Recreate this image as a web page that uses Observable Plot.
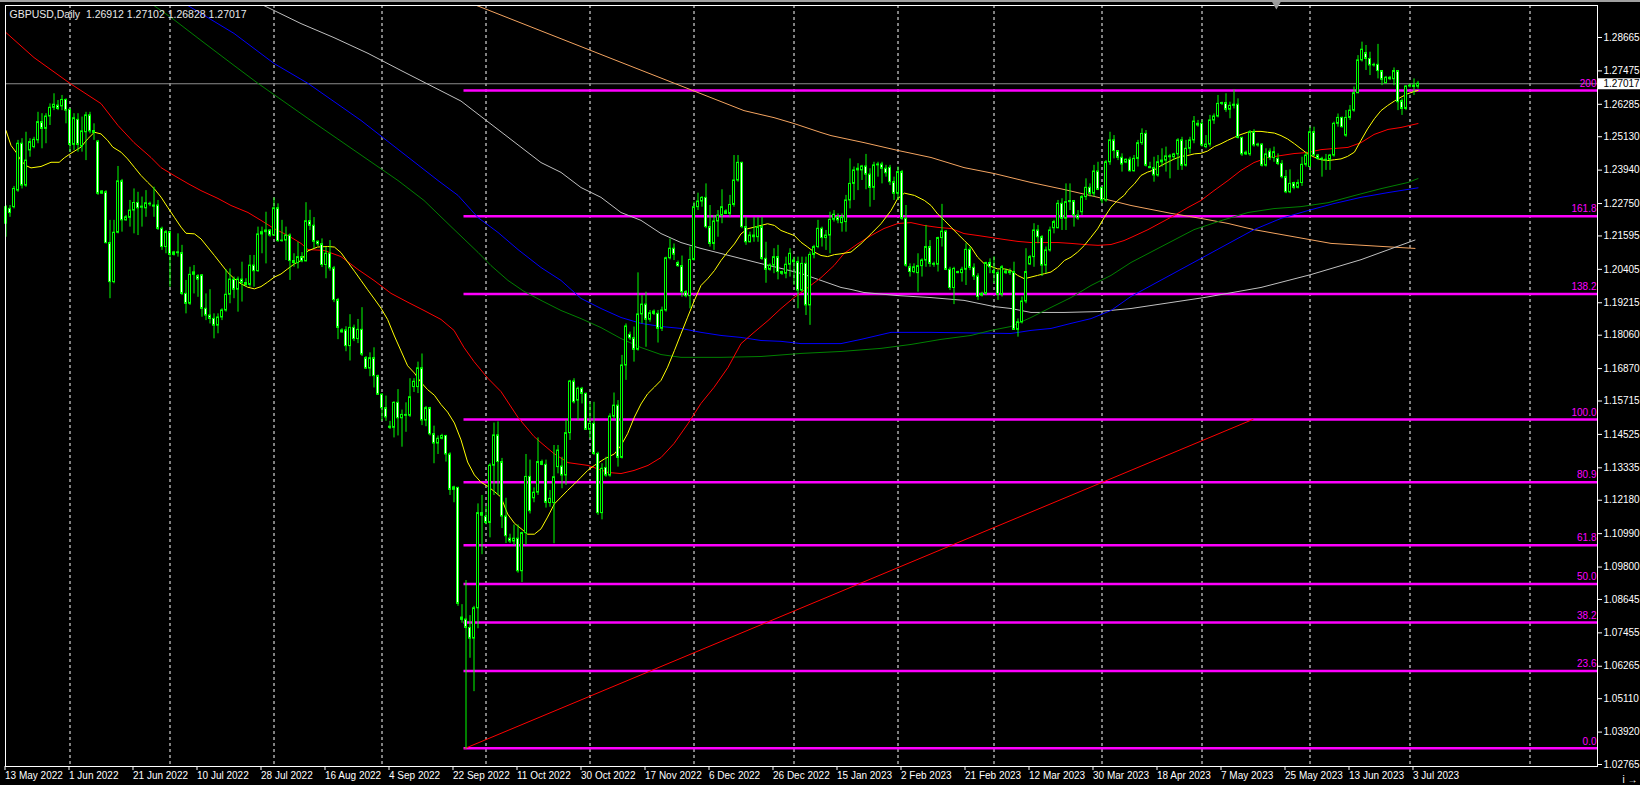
<!DOCTYPE html>
<html><head><meta charset="utf-8">
<script src="https://cdn.jsdelivr.net/npm/d3@7"></script>
<script src="https://cdn.jsdelivr.net/npm/@observablehq/plot@0.6"></script>
<style>
html,body{margin:0;padding:0;background:#000;}
#chart{position:relative;width:1640px;height:785px;overflow:hidden;background:#000;}
#chart svg{display:block;}
#topline{position:absolute;left:0;top:0;width:1640px;height:2px;background:#a0a0a0;}
</style></head><body><div id="chart"><div id="topline"></div></div>
<script>
const title = "GBPUSD,Daily  1.26912 1.27102 1.26828 1.27017";
const bid = 1.27017;

const opens = [
1.2203,1.2256,1.2262,1.2321,1.2488,1.2339,1.2464,1.2476,1.2500,1.2565,
1.2541,1.2585,1.2616,1.2624,1.2621,1.2644,1.2609,1.2484,1.2573,1.2478,
1.2529,1.2589,1.2533,1.2496,1.2310,1.2315,1.2134,1.1995,1.2171,1.2354,
1.2215,1.2224,1.2250,1.2277,1.2260,1.2258,1.2274,1.2268,1.2268,1.2185,
1.2120,1.2173,1.2092,1.2101,1.2098,1.1953,1.1918,1.2021,1.2016,1.2019,
1.1900,1.1876,1.1864,1.1840,1.1869,1.1894,1.1950,1.2004,1.1968,1.2004,
1.1992,1.1985,1.2054,1.2034,1.2165,1.2173,1.2179,1.2161,1.2258,1.2141,
1.2143,1.2161,1.2070,1.2063,1.2084,1.2069,1.2212,1.2196,1.2139,1.2130,
1.2056,1.2096,1.2044,1.1931,1.1816,1.1823,1.1767,1.1832,1.1792,1.1825,
1.1724,1.1687,1.1724,1.1660,1.1594,1.1546,1.1480,1.1476,1.1565,1.1510,
1.1522,1.1519,1.1621,1.1621,1.1688,1.1502,1.1546,1.1453,1.1420,1.1437,
1.1447,1.1381,1.1255,1.1262,1.0800,1.0793,1.0763,1.0725,1.0833,1.1172,
1.1159,1.1137,1.1341,1.1449,1.1354,1.1160,1.1081,1.1071,1.1081,1.0965,
1.1101,1.1301,1.1225,1.1245,1.1354,1.1344,1.1208,1.1208,1.1336,1.1338,
1.1306,1.1457,1.1641,1.1573,1.1615,1.1597,1.1469,1.1490,1.1383,1.1172,
1.1333,1.1306,1.1516,1.1555,1.1369,1.1698,1.1807,1.1795,1.1754,1.1880,
1.1915,1.1861,1.1890,1.1882,1.1829,1.1894,1.2080,1.2114,1.2063,1.2052,
1.1959,1.1945,1.2074,1.2262,1.2282,1.2295,1.2191,1.2131,1.2211,1.2232,
1.2247,1.2238,1.2270,1.2357,1.2420,1.2191,1.2137,1.2161,1.2155,1.2191,
1.2078,1.2039,1.2054,1.2084,1.2031,1.2025,1.2057,1.2072,1.2066,1.1965,
1.2060,1.1912,1.2092,1.2120,1.2185,1.2152,1.2161,1.2217,1.2226,1.2205,
1.2209,1.2286,1.2345,1.2393,1.2393,1.2407,1.2378,1.2331,1.2411,1.2414,
1.2399,1.2402,1.2351,1.2310,1.2387,1.2221,1.2048,1.2031,1.2027,1.2052,
1.2072,1.2120,1.2060,1.2057,1.2152,1.2175,1.2039,1.1974,1.2031,1.2027,
1.2039,1.2110,1.2046,1.2015,1.1947,1.1953,1.2063,1.2034,1.2027,1.1950,
1.2033,1.2027,1.2031,1.1825,1.1852,1.1926,1.2058,1.2084,1.2179,1.2155,
1.2054,1.2108,1.2187,1.2187,1.2274,1.2221,1.2280,1.2284,1.2232,1.2244,
1.2298,1.2331,1.2310,1.2389,1.2331,1.2286,1.2422,1.2500,1.2462,1.2438,
1.2421,1.2431,1.2390,1.2434,1.2490,1.2523,1.2405,1.2401,1.2375,1.2422,
1.2428,1.2443,1.2440,1.2450,1.2500,1.2410,1.2470,1.2500,1.2559,1.2559,
1.2476,1.2485,1.2571,1.2585,1.2630,1.2633,1.2609,1.2623,1.2627,1.2509,
1.2450,1.2450,1.2529,1.2482,1.2485,1.2410,1.2460,1.2437,1.2434,1.2416,
1.2369,1.2315,1.2348,1.2331,1.2348,1.2413,1.2405,1.2529,1.2446,1.2434,
1.2428,1.2431,1.2446,1.2559,1.2580,1.2517,1.2580,1.2606,1.2668,1.2785,
1.2811,1.2790,1.2767,1.2769,1.2747,1.2704,1.2723,1.2718,1.2747,1.2640,
1.2612,1.2692,1.2695,1.26912];

const highs = [
1.2268,1.2268,1.2336,1.2500,1.2506,1.2529,1.2506,1.2511,1.2600,1.2595,
1.2595,1.2630,1.2666,1.2642,1.2660,1.2648,1.2612,1.2595,1.2595,1.2583,
1.2600,1.2600,1.2559,1.2500,1.2321,1.2321,1.2215,1.2215,1.2407,1.2361,
1.2232,1.2286,1.2327,1.2315,1.2298,1.2321,1.2280,1.2333,1.2286,1.2191,
1.2179,1.2177,1.2105,1.2167,1.2126,1.2001,1.2048,1.2054,1.2022,1.2022,
1.1953,1.1968,1.1882,1.1882,1.1900,1.2039,1.2042,1.2013,1.2013,1.2066,
1.2007,1.2090,1.2090,1.2191,1.2191,1.2244,1.2182,1.2295,1.2274,1.2215,
1.2191,1.2167,1.2096,1.2137,1.2100,1.2278,1.2251,1.2225,1.2142,1.2149,
1.2119,1.2143,1.2051,1.1937,1.1829,1.1836,1.1879,1.1842,1.1862,1.1904,
1.1730,1.1743,1.1761,1.1664,1.1598,1.1589,1.1499,1.1569,1.1612,1.1539,
1.1565,1.1651,1.1651,1.1710,1.1739,1.1552,1.1549,1.1482,1.1447,1.1453,
1.1449,1.1387,1.1268,1.1264,1.0846,1.0932,1.0807,1.0840,1.1205,1.1235,
1.1196,1.1348,1.1493,1.1497,1.1367,1.1225,1.1097,1.1130,1.1130,1.1104,
1.1381,1.1361,1.1262,1.1440,1.1361,1.1361,1.1253,1.1413,1.1413,1.1371,
1.1502,1.1645,1.1651,1.1621,1.1620,1.1600,1.1567,1.1567,1.1389,1.1348,
1.1371,1.1526,1.1600,1.1573,1.1734,1.1846,1.1817,1.1835,1.2028,1.1947,
1.1959,1.1894,1.1896,1.1894,1.1906,1.2084,1.2149,1.2131,1.2070,1.2088,
1.1965,1.2120,1.2280,1.2312,1.2300,1.2345,1.2268,1.2232,1.2250,1.2324,
1.2253,1.2304,1.2446,1.2446,1.2422,1.2226,1.2173,1.2226,1.2226,1.2226,
1.2137,1.2060,1.2114,1.2126,1.2034,1.2084,1.2114,1.2084,1.2084,1.2084,
1.2084,1.2102,1.2126,1.2215,1.2191,1.2179,1.2244,1.2250,1.2238,1.2238,
1.2304,1.2434,1.2405,1.2417,1.2411,1.2450,1.2399,1.2422,1.2422,1.2422,
1.2411,1.2411,1.2369,1.2405,1.2393,1.2268,1.2060,1.2060,1.2096,1.2078,
1.2197,1.2143,1.2066,1.2155,1.2272,1.2179,1.2048,1.2048,1.2034,1.2048,
1.2132,1.2120,1.2060,1.2025,1.1959,1.2066,1.2078,1.2085,1.2036,1.2054,
1.2042,1.2042,1.2066,1.1864,1.1942,1.2114,1.2090,1.2203,1.2197,1.2161,
1.2120,1.2191,1.2215,1.2286,1.2292,1.2345,1.2345,1.2286,1.2250,1.2304,
1.2363,1.2345,1.2411,1.2422,1.2333,1.2428,1.2529,1.2517,1.2464,1.2452,
1.2434,1.2440,1.2446,1.2500,1.2541,1.2535,1.2422,1.2440,1.2446,1.2470,
1.2476,1.2450,1.2454,1.2506,1.2511,1.2500,1.2511,1.2585,1.2571,1.2571,
1.2517,1.2589,1.2594,1.2660,1.2636,1.2666,1.2636,1.2680,1.2648,1.2511,
1.2462,1.2535,1.2538,1.2490,1.2488,1.2470,1.2470,1.2476,1.2452,1.2428,
1.2393,1.2395,1.2351,1.2359,1.2440,1.2458,1.2547,1.2547,1.2450,1.2440,
1.2450,1.2450,1.2565,1.2594,1.2583,1.2606,1.2624,1.2690,1.2802,1.2850,
1.2838,1.2814,1.2775,1.2842,1.2749,1.2728,1.2728,1.2758,1.2749,1.2648,
1.2695,1.2701,1.2719,1.27102];

const lows = [
1.2155,1.2226,1.2256,1.2315,1.2327,1.2333,1.2440,1.2470,1.2488,1.2470,
1.2488,1.2553,1.2606,1.2606,1.2606,1.2559,1.2458,1.2464,1.2458,1.2458,
1.2428,1.2523,1.2500,1.2304,1.2307,1.2131,1.1936,1.1989,1.2167,1.2173,
1.2212,1.2191,1.2167,1.2161,1.2191,1.2226,1.2264,1.2226,1.2179,1.2108,
1.2096,1.1977,1.2088,1.2084,1.1947,1.1882,1.1912,1.1953,1.1941,1.1870,
1.1858,1.1846,1.1793,1.1811,1.1858,1.1888,1.1918,1.1936,1.1888,1.1924,
1.1977,1.1977,1.1977,1.2030,1.2096,1.2060,1.2155,1.2158,1.2137,1.2137,
1.2072,1.2001,1.2048,1.2042,1.2064,1.2067,1.2179,1.2113,1.2122,1.2047,
1.2007,1.2034,1.1922,1.1790,1.1813,1.1747,1.1714,1.1783,1.1776,1.1730,
1.1684,1.1658,1.1618,1.1592,1.1499,1.1499,1.1470,1.1440,1.1447,1.1407,
1.1460,1.1513,1.1602,1.1598,1.1484,1.1480,1.1447,1.1348,1.1381,1.1433,
1.1354,1.1235,1.1209,1.0840,1.0780,1.0331,1.0655,1.0536,1.0760,1.1024,
1.1130,1.1084,1.1235,1.1235,1.1117,1.1064,1.1064,1.1057,1.0958,1.0925,
1.1057,1.1169,1.1209,1.1235,1.1341,1.1190,1.1193,1.1063,1.1312,1.1259,
1.1271,1.1431,1.1561,1.1502,1.1561,1.1467,1.1437,1.1377,1.1164,1.1148,
1.1300,1.1300,1.1508,1.1336,1.1365,1.1645,1.1787,1.1710,1.1749,1.1846,
1.1763,1.1852,1.1876,1.1778,1.1819,1.1888,1.2074,1.2072,1.2048,1.1941,
1.1939,1.1900,1.2070,1.2250,1.2262,1.2185,1.2120,1.2108,1.2155,1.2203,
1.2236,1.2226,1.2262,1.2351,1.2185,1.2126,1.2135,1.2137,1.2137,1.2072,
1.1991,1.2034,1.2025,1.2003,1.2019,1.2007,1.2013,1.1983,1.1900,1.1959,
1.1876,1.1841,1.2078,1.2114,1.2120,1.2108,1.2096,1.2209,1.2203,1.2173,
1.2173,1.2256,1.2286,1.2321,1.2357,1.2324,1.2262,1.2286,1.2369,1.2345,
1.2369,1.2339,1.2286,1.2286,1.2215,1.2048,1.2013,1.2025,1.1959,1.2013,
1.2048,1.2048,1.2048,1.2031,1.2120,1.2036,1.1965,1.1915,1.2025,1.1995,
1.1983,1.2036,1.2001,1.1930,1.1942,1.1947,1.2025,1.1990,1.1930,1.1942,
1.2022,1.2019,1.1823,1.1799,1.1846,1.1918,1.2054,1.2048,1.2132,1.2015,
1.2025,1.2102,1.2167,1.2185,1.2179,1.2179,1.2250,1.2191,1.2215,1.2232,
1.2286,1.2298,1.2298,1.2321,1.2274,1.2280,1.2411,1.2434,1.2428,1.2387,
1.2417,1.2387,1.2387,1.2405,1.2482,1.2405,1.2399,1.2351,1.2369,1.2405,
1.2387,1.2363,1.2428,1.2393,1.2393,1.2405,1.2452,1.2488,1.2547,1.2476,
1.2470,1.2476,1.2557,1.2580,1.2624,1.2600,1.2577,1.2612,1.2505,1.2443,
1.2446,1.2443,1.2476,1.2476,1.2405,1.2405,1.2428,1.2422,1.2410,1.2363,
1.2310,1.2310,1.2324,1.2327,1.2336,1.2405,1.2402,1.2443,1.2428,1.2369,
1.2393,1.2393,1.2440,1.2547,1.2544,1.2511,1.2571,1.2600,1.2666,1.2779,
1.2749,1.2731,1.2761,1.2719,1.2695,1.2701,1.2713,1.2695,1.2606,1.2589,
1.2606,1.2687,1.2660,1.26828];

const closes = [
1.2262,1.2241,1.2327,1.2488,1.2339,1.2428,1.2494,1.2502,1.2565,1.2541,
1.2585,1.2616,1.2627,1.2612,1.2644,1.2606,1.2484,1.2579,1.2484,1.2532,
1.2589,1.2532,1.2527,1.2310,1.2318,1.2134,1.1995,1.2171,1.2354,1.2215,
1.2226,1.2250,1.2277,1.2258,1.2264,1.2276,1.2272,1.2264,1.2185,1.2120,
1.2173,1.2092,1.2101,1.2098,1.1953,1.1918,1.2021,1.2030,1.2004,1.1900,
1.1876,1.1864,1.1840,1.1869,1.1894,1.1950,1.2004,1.1968,1.2004,1.1992,
1.1985,1.2054,1.2034,1.2165,1.2173,1.2179,1.2161,1.2258,1.2141,1.2143,
1.2161,1.2070,1.2063,1.2084,1.2069,1.2212,1.2196,1.2139,1.2130,1.2056,
1.2096,1.2044,1.1931,1.1832,1.1823,1.1767,1.1832,1.1792,1.1825,1.1737,
1.1687,1.1724,1.1660,1.1594,1.1546,1.1513,1.1476,1.1565,1.1510,1.1522,
1.1519,1.1585,1.1640,1.1688,1.1502,1.1546,1.1453,1.1420,1.1437,1.1447,
1.1381,1.1255,1.1264,1.0849,1.0792,1.0763,1.0725,1.0833,1.1172,1.1163,
1.1137,1.1341,1.1449,1.1354,1.1160,1.1090,1.1071,1.1081,1.0965,1.1101,
1.1301,1.1179,1.1245,1.1354,1.1344,1.1209,1.1223,1.1300,1.1395,1.1306,
1.1457,1.1641,1.1567,1.1615,1.1597,1.1469,1.1490,1.1383,1.1172,1.1330,
1.1306,1.1516,1.1555,1.1369,1.1698,1.1837,1.1795,1.1754,1.1880,1.1915,
1.1861,1.1884,1.1882,1.1829,1.1894,1.2080,1.2114,1.2093,1.2052,1.1959,
1.1945,1.2074,1.2262,1.2282,1.2295,1.2191,1.2131,1.2211,1.2232,1.2262,
1.2238,1.2270,1.2357,1.2420,1.2191,1.2137,1.2161,1.2155,1.2191,1.2078,
1.2039,1.2054,1.2084,1.2031,1.2025,1.2057,1.2096,1.2066,1.1965,1.2060,
1.1912,1.2092,1.2120,1.2185,1.2152,1.2161,1.2217,1.2235,1.2215,1.2226,
1.2286,1.2345,1.2393,1.2399,1.2407,1.2378,1.2331,1.2411,1.2414,1.2399,
1.2383,1.2351,1.2310,1.2387,1.2221,1.2054,1.2031,1.2048,1.2052,1.2072,
1.2120,1.2060,1.2057,1.2152,1.2175,1.2039,1.1974,1.2042,1.2027,1.2039,
1.2110,1.2046,1.2015,1.1942,1.1953,1.2063,1.2048,1.2027,1.1950,1.2048,
1.2027,1.2031,1.1825,1.1852,1.1926,1.2031,1.2084,1.2179,1.2155,1.2054,
1.2108,1.2179,1.2209,1.2274,1.2221,1.2280,1.2284,1.2232,1.2222,1.2298,
1.2331,1.2310,1.2389,1.2324,1.2286,1.2422,1.2500,1.2462,1.2438,1.2414,
1.2431,1.2390,1.2434,1.2490,1.2523,1.2410,1.2401,1.2375,1.2422,1.2428,
1.2443,1.2440,1.2450,1.2500,1.2410,1.2470,1.2500,1.2567,1.2553,1.2482,
1.2485,1.2571,1.2585,1.2630,1.2633,1.2609,1.2623,1.2627,1.2509,1.2450,
1.2456,1.2529,1.2482,1.2485,1.2410,1.2450,1.2437,1.2458,1.2416,1.2369,
1.2315,1.2345,1.2331,1.2348,1.2413,1.2446,1.2529,1.2446,1.2434,1.2431,
1.2431,1.2446,1.2559,1.2580,1.2547,1.2580,1.2606,1.2668,1.2785,1.2823,
1.2790,1.2767,1.2769,1.2747,1.2716,1.2723,1.2718,1.2747,1.2636,1.2612,
1.2692,1.2695,1.2690,1.27017];

// moving averages: [bar index, price]
const maYellow = [[0,1.2535],[1.25,1.2482],[2.5,1.2458],[3.75,1.2428],[5,1.2410],[6.25,1.2402],[8.75,1.2407],[11.25,1.2422],[13.3,1.2422],[14.6,1.2438],[16.25,1.2454],[18.75,1.2476],[20.4,1.2505],[22.1,1.2529],[23.75,1.2523],[25.4,1.2500],[26.7,1.2476],[28.75,1.2458],[30.4,1.2434],[32.1,1.2404],[33.75,1.2375],[35.4,1.2351],[37.1,1.2327],[38.75,1.2298],[40.4,1.2262],[42.1,1.2226],[43.75,1.2191],[45,1.2169],[47.1,1.2167],[48.75,1.2149],[50.4,1.2120],[52.1,1.2090],[53.75,1.2060],[55.4,1.2030],[57.1,1.2007],[58.75,1.1989],[60.4,1.1977],[62.1,1.1971],[63.75,1.1979],[65.4,1.1995],[67.1,1.2013],[68.75,1.2024],[70.4,1.2042],[72.1,1.2060],[73.75,1.2072],[75.4,1.2106],[77.9,1.2120],[80.4,1.2122],[82.1,1.2120],[83.75,1.2100],[85.4,1.2067],[87.1,1.2034],[88.75,1.2001],[90.4,1.1968],[92.1,1.1935],[93.75,1.1902],[95.4,1.1862],[97.1,1.1803],[98.75,1.1750],[100.4,1.1697],[102.1,1.1671],[103.75,1.1638],[105.4,1.1612],[107.1,1.1592],[108.75,1.1559],[110.4,1.1532],[112.1,1.1493],[113.75,1.1433],[115.4,1.1354],[117.1,1.1308],[118.75,1.1282],[120.4,1.1268],[122.1,1.1249],[123.75,1.1229],[125.4,1.1169],[127.1,1.1136],[128.75,1.1117],[130.4,1.1097],[132.1,1.1097],[133.75,1.1116],[135.4,1.1158],[137.1,1.1205],[138.75,1.1229],[140.4,1.1253],[142.1,1.1276],[143.75,1.1300],[145.4,1.1324],[147.1,1.1342],[149.6,1.1365],[152.1,1.1383],[153.75,1.1413],[155.4,1.1455],[157.1,1.1514],[158.75,1.1561],[160.4,1.1597],[162.1,1.1621],[163.75,1.1645],[165.4,1.1692],[167.1,1.1751],[168.75,1.1811],[170.4,1.1870],[172.1,1.1930],[173.75,1.1983],[175.4,1.2007],[177.1,1.2036],[178.75,1.2072],[180.4,1.2102],[182.1,1.2131],[183.75,1.2167],[185.4,1.2185],[187.1,1.2191],[188.75,1.2197],[190.4,1.2203],[192.1,1.2197],[193.75,1.2179],[195.4,1.2170],[197.1,1.2161],[198.75,1.2137],[200.4,1.2120],[202.1,1.2102],[203.75,1.2090],[205.4,1.2086],[207.1,1.2093],[208.75,1.2096],[211.25,1.2102],[213.75,1.2132],[216.25,1.2167],[218.75,1.2203],[221.25,1.2250],[222.9,1.2292],[224.6,1.2312],[227.1,1.2304],[229.6,1.2286],[231.25,1.2268],[232.9,1.2238],[234.6,1.2215],[236.25,1.2191],[237.9,1.2167],[239.6,1.2143],[241.25,1.2120],[242.9,1.2084],[244.6,1.2060],[246.25,1.2051],[247.9,1.2042],[249.6,1.2042],[251.25,1.2036],[252.9,1.2019],[254.6,1.2007],[256.25,1.2013],[257.9,1.2019],[259.6,1.2025],[261.25,1.2031],[262.9,1.2048],[264.6,1.2072],[266.25,1.2084],[267.9,1.2102],[269.6,1.2126],[271.25,1.2155],[272.9,1.2185],[274.6,1.2226],[276.25,1.2262],[277.9,1.2286],[279.6,1.2305],[280.4,1.2321],[282.1,1.2345],[283.75,1.2375],[285.4,1.2387],[287.1,1.2395],[288.75,1.2410],[290.4,1.2422],[292.1,1.2434],[293.75,1.2443],[295.4,1.2446],[297.1,1.2452],[298.75,1.2454],[300.4,1.2462],[302.1,1.2478],[303.75,1.2488],[305.4,1.2500],[307.1,1.2511],[308.75,1.2521],[310.4,1.2529],[312.1,1.2532],[313.75,1.2532],[315.4,1.2529],[317.1,1.2526],[318.75,1.2517],[320.4,1.2505],[322.1,1.2488],[323.75,1.2470],[325.4,1.2452],[327.1,1.2440],[328.75,1.2431],[330.4,1.2428],[332.1,1.2431],[333.75,1.2434],[335.4,1.2443],[337.1,1.2458],[338.75,1.2500],[340.4,1.2541],[342.1,1.2577],[343.75,1.2606],[345.4,1.2624],[347.1,1.2640],[348.75,1.2654],[350.4,1.2666],[352,1.2674],[353,1.2678]];

const maRed = [[0,1.2884],[7,1.2795],[16,1.2703],[23.75,1.2631],[28,1.2553],[32,1.2492],[36.25,1.2439],[38.75,1.2403],[42,1.2375],[45.5,1.2346],[48.75,1.2321],[53,1.2293],[56.25,1.2268],[60.5,1.2243],[63.75,1.2215],[67,1.2186],[70.5,1.2161],[73.75,1.2133],[75.5,1.2111],[79.5,1.2108],[83.75,1.2086],[88,1.2040],[92,1.2001],[96.25,1.1955],[100.5,1.1923],[104.5,1.1894],[108.75,1.1862],[112,1.1823],[114.5,1.1762],[117,1.1712],[120.5,1.1652],[123.75,1.1605],[128,1.1513],[132,1.1445],[134,1.1420],[137,1.1384],[140.5,1.1352],[145.5,1.1342],[150.5,1.1317],[153.75,1.1313],[157,1.1324],[160.5,1.1342],[163.75,1.1370],[167,1.1420],[170.5,1.1491],[173.75,1.1563],[177,1.1620],[180.5,1.1691],[183.75,1.1776],[187,1.1816],[190.5,1.1858],[193.75,1.1901],[197,1.1940],[200.5,1.1976],[203.75,1.2011],[207,1.2054],[209.5,1.2097],[213,1.2132],[216.25,1.2161],[219.5,1.2186],[223,1.2204],[226.25,1.2207],[229.5,1.2197],[233,1.2190],[236.25,1.2186],[239.5,1.2168],[243,1.2161],[246.25,1.2154],[249.5,1.2147],[253,1.2140],[256.25,1.2136],[263,1.2136],[266.25,1.2133],[269.5,1.2129],[273,1.2126],[276.25,1.2129],[279.5,1.2143],[281.25,1.2154],[285.5,1.2182],[288.75,1.2207],[292,1.2232],[295.5,1.2261],[298.75,1.2286],[302,1.2321],[305.5,1.2357],[308.75,1.2393],[312,1.2421],[315.5,1.2439],[318.75,1.2446],[322,1.2453],[325.5,1.2457],[328.75,1.2467],[332,1.2471],[335.5,1.2475],[338.75,1.2492],[342,1.2521],[345.5,1.2539],[348.75,1.2546],[353,1.2560]];

const maGreen = [[37,1.2980],[41.25,1.2938],[48.75,1.2856],[57,1.2767],[63,1.2703],[68,1.2653],[75.5,1.2578],[98,1.2357],[104.5,1.2286],[111.25,1.2193],[118,1.2101],[121.25,1.2054],[125.5,1.2001],[129.5,1.1962],[133.75,1.1930],[138.75,1.1894],[143.75,1.1865],[148.75,1.1833],[153.75,1.1794],[158.75,1.1762],[163.75,1.1737],[168.75,1.1727],[178.75,1.1727],[188.75,1.1730],[198.75,1.1741],[208.75,1.1748],[218.75,1.1759],[226.25,1.1773],[233.75,1.1791],[241.25,1.1805],[246.25,1.1823],[251.25,1.1837],[256.25,1.1869],[261.25,1.1905],[266.25,1.1940],[271.25,1.1983],[276.25,1.2019],[281.25,1.2065],[297,1.2182],[303.75,1.2214],[310.5,1.2243],[317,1.2257],[323.75,1.2264],[330.5,1.2278],[337,1.2303],[343.75,1.2328],[350.5,1.2350],[353,1.2364]];

const maBlue = [[45.5,1.2980],[57,1.2881],[67,1.2774],[75.5,1.2703],[88.75,1.2571],[108,1.2357],[113,1.2304],[118,1.2225],[123,1.2172],[128,1.2111],[133.75,1.2047],[138.75,1.2001],[143.75,1.1937],[148.75,1.1901],[153.75,1.1869],[158.75,1.1848],[163.75,1.1837],[168.75,1.1830],[173.75,1.1816],[178.75,1.1805],[183.75,1.1798],[188.75,1.1787],[193.75,1.1784],[198.75,1.1776],[208.75,1.1776],[213.75,1.1791],[221.25,1.1816],[231.25,1.1816],[251.25,1.1812],[256.25,1.1823],[261.25,1.1830],[266.25,1.1848],[271.25,1.1865],[276.25,1.1894],[281.25,1.1944],[312,1.2182],[318.75,1.2222],[325.5,1.2250],[332,1.2275],[338.75,1.2297],[345.5,1.2314],[353,1.2331]];

const maSilver = [[64.5,1.2980],[73.75,1.2916],[82,1.2866],[90.5,1.2810],[98.75,1.2749],[113.75,1.2640],[133.75,1.2421],[138.75,1.2386],[143.75,1.2332],[148.75,1.2297],[153.75,1.2243],[158.75,1.2215],[163.75,1.2168],[168.75,1.2136],[173.75,1.2115],[178.75,1.2097],[183.75,1.2079],[188.75,1.2061],[193.75,1.2044],[198.75,1.2026],[203.75,1.2001],[208.75,1.1976],[211.25,1.1969],[214.5,1.1958],[223,1.1947],[231.25,1.1940],[239.5,1.1930],[247,1.1908],[251.25,1.1901],[256.25,1.1887],[264.5,1.1887],[273,1.1890],[281.25,1.1901],[299.5,1.1940],[313.75,1.1976],[326.25,1.2022],[338.75,1.2075],[352.25,1.2145]];

const maOrange = [[117.75,1.2980],[151.25,1.2792],[184.5,1.2606],[192,1.2581],[197,1.2560],[203.75,1.2528],[206.25,1.2517],[214.5,1.2492],[223,1.2464],[231.25,1.2439],[239.5,1.2403],[247,1.2382],[256.25,1.2350],[264.5,1.2325],[273,1.2297],[281.25,1.2268],[283.75,1.2261],[291.25,1.2240],[298.75,1.2222],[305.5,1.2204],[312,1.2182],[331.25,1.2133],[352.25,1.2115]];

// Fibonacci object
const fibLevels = ["0.0","23.6","38.2","50.0","61.8","80.9","100.0","138.2","161.8","200"];
const fibPrices = [1.0334,1.0610,1.0782,1.0920,1.1058,1.1282,1.1506,1.1953,1.2230,1.2678];
const fibStart = 114.5;
const fibTrend = [[114.75,1.0334],[311.75,1.1506]];

// axes
const priceTicks = [1.28665,1.27475,1.26285,1.25130,1.23940,1.22750,1.21595,1.20405,1.19215,1.18060,1.16870,1.15715,1.14525,1.13335,1.12180,1.10990,1.09800,1.08645,1.07455,1.06265,1.05110,1.03920,1.02765];
const dateTickIndex = [0,16,32,48,64,80,96,112,128,144,160,176,192,208,224,240,256,272,288,304,320,336,352];
const dateTickLabels = ["13 May 2022","1 Jun 2022","21 Jun 2022","10 Jul 2022","28 Jul 2022","16 Aug 2022","4 Sep 2022","22 Sep 2022","11 Oct 2022","30 Oct 2022","17 Nov 2022","6 Dec 2022","26 Dec 2022","15 Jan 2023","2 Feb 2023","21 Feb 2023","12 Mar 2023","30 Mar 2023","18 Apr 2023","7 May 2023","25 May 2023","13 Jun 2023","3 Jul 2023"];
const gridIndex = [16,41,67,94,120,146,172,197,223,247,274,299,326,351,381];
const shiftMarkerIndex = [317.6];

const xMin = -0.125, xMax = 397.875;
const bars = opens.map((o,i)=>({i,o,h:highs[i],l:lows[i],c:closes[i]}));
const toPts = a => a.map(([i,p])=>({i,p}));
const fib = fibPrices.map((p,k)=>({p,lab:fibLevels[k]}));
const FONT = "Liberation Sans, Arial, sans-serif";

const lineOpts = (col) => ({x:"i", y:"p", stroke:col, strokeWidth:1, clip:true});

const chart = Plot.plot({
  width:1640, height:785,
  marginLeft:5, marginRight:43, marginTop:5, marginBottom:19,
  style:{background:"#000", color:"#fff", fontFamily:FONT, fontSize:"10px"},
  x:{domain:[xMin,xMax], axis:null},
  y:{domain:[1.02694,1.29805], axis:null},
  marks:[
    Plot.ruleX(gridIndex, {stroke:"#ffffff", strokeDasharray:"3,3", strokeWidth:1}),
    Plot.ruleY([bid], {stroke:"#8c8c8c", strokeWidth:1}),
    Plot.ruleY(fib, {y:"p", x1:()=>fibStart, x2:()=>xMax, stroke:"#ff00ff", strokeWidth:2.5}),
    Plot.line(fibTrend.map(([i,p])=>({i,p})), {x:"i", y:"p", stroke:"#ff0000", strokeWidth:1}),
    Plot.line(toPts(maOrange), lineOpts("#f4a460")),
    Plot.line(toPts(maSilver), lineOpts("#c0c0c0")),
    Plot.line(toPts(maBlue), lineOpts("#0000ff")),
    Plot.line(toPts(maGreen), lineOpts("#008000")),
    Plot.line(toPts(maRed), lineOpts("#ff0000")),
    Plot.line(toPts(maYellow), lineOpts("#ffff00")),
    Plot.ruleX(bars, {x:"i", y1:"l", y2:"h", stroke:"#00ff00", strokeWidth:1}),
    Plot.rect(bars, {x1:d=>d.i-0.25, x2:d=>d.i+0.25, y1:d=>Math.min(d.o,d.c), y2:d=>Math.max(d.o,d.c),
      fill:d=>d.c>=d.o?"#000000":"#ffffff", stroke:"#00ff00", strokeWidth:1}),
    Plot.text(fib, {x:()=>xMax, y:"p", text:"lab", textAnchor:"end", dx:-1, dy:-7, fill:"#ff00ff", fontSize:10}),
    Plot.frame({stroke:"#ffffff"}),
    Plot.axisY(priceTicks, {anchor:"right", tickSize:4, tickPadding:2, tickFormat:d=>d.toFixed(5), fontSize:10}),
    Plot.axisX(dateTickIndex, {anchor:"bottom", tickSize:4, tickPadding:1, textAnchor:"start", dx:-1,
      tickFormat:(d)=>dateTickLabels[dateTickIndex.indexOf(d)], fontSize:10}),
    Plot.ruleY([bid], {x1:()=>xMax+0.25, x2:()=>xMax+11, stroke:"#ffffff", strokeWidth:11}),
    Plot.text([bid], {x:()=>xMax, y:d=>d, text:d=>d.toFixed(5), textAnchor:"start", dx:6, fill:"#000000", fontSize:10}),
    Plot.dot(shiftMarkerIndex, {x:d=>d, frameAnchor:"top", dy:-1, symbol:"triangle", rotate:180, r:3.2, fill:"#9a9a9a", stroke:"none"}),
    Plot.text([title], {frameAnchor:"top-left", dx:4, dy:5, fill:"#e8e8e8", fontSize:10.5})
  ]
});
document.getElementById("chart").appendChild(chart);
</script>
</body></html>
